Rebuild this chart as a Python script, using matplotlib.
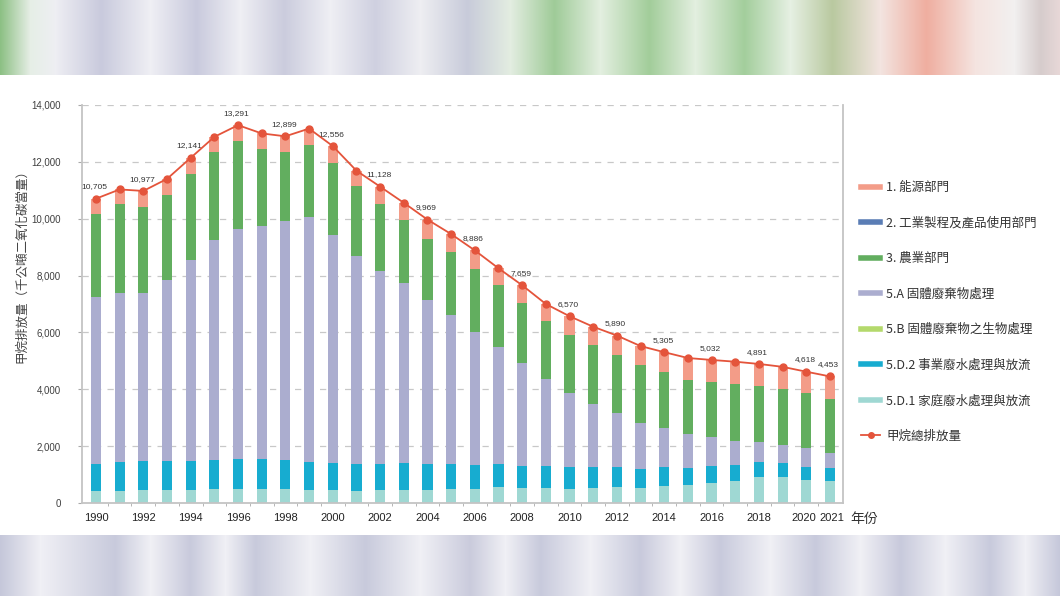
import numpy as np
import matplotlib.pyplot as plt
import matplotlib.transforms as mtransforms
from matplotlib.lines import Line2D
from matplotlib.colors import to_rgb
from matplotlib.ticker import FuncFormatter

plt.rcParams['font.family'] = ['Noto Sans CJK TC', 'DejaVu Sans']

years = list(range(1990, 2022))

# 甲烷排放量（千公噸二氧化碳當量）
energy = [536, 520, 551, 563, 565, 541, 554, 533, 549, 584, 604, 536, 607, 602, 691, 617,
          662, 585, 632, 584, 658, 640, 682, 675, 703, 771, 773, 793, 773, 789, 758, 804]
industry = [2, 2, 2, 2, 2, 2, 2, 2, 2, 2, 2, 2, 2, 2, 2, 2,
            2, 2, 2, 2, 2, 2, 2, 2, 2, 2, 2, 2, 2, 2, 2, 2]
agriculture = [2931, 3110, 3048, 2990, 3025, 3085, 3096, 2709, 2427, 2511, 2511, 2462, 2347, 2227, 2134, 2241,
               2217, 2169, 2089, 2052, 2029, 2075, 2051, 2040, 1973, 1911, 1946, 1982, 1958, 1959, 1935, 1877]
solid_waste = [5864, 5945, 5888, 6357, 7059, 7742, 8091, 8196, 8411, 8620, 8044, 7318, 6800, 6334, 5770, 5228,
               4656, 4128, 3634, 3048, 2626, 2228, 1900, 1607, 1377, 1173, 997, 856, 727, 644, 645, 550]
bio_waste = [0, 0, 0, 0, 0, 0, 0, 0, 0, 0, 0, 0, 1, 1, 1, 1,
             1, 1, 1, 1, 1, 1, 1, 2, 2, 2, 2, 2, 2, 2, 2, 2]
ind_wastewater = [962, 1020, 1031, 1028, 1030, 1030, 1044, 1056, 1030, 1007, 949, 939, 926, 925, 902, 868,
                  845, 809, 762, 774, 751, 715, 680, 656, 645, 610, 599, 551, 528, 493, 469, 446]
dom_wastewater = [410, 433, 457, 460, 460, 480, 504, 504, 480, 446, 446, 433, 446, 470, 470, 504,
                  504, 563, 540, 540, 504, 540, 575, 540, 605, 633, 715, 786, 903, 903, 809, 774]
total = [10705, 11030, 10977, 11400, 12141, 12880, 13291, 13000, 12899, 13170, 12556, 11690, 11128, 10560, 9969, 9460,
         8886, 8256, 7659, 7000, 6570, 6200, 5890, 5520, 5305, 5100, 5032, 4970, 4891, 4790, 4618, 4453]
labelled_years = [1990, 1992, 1994, 1996, 1998, 2000, 2002, 2004, 2006, 2008, 2010, 2012, 2014, 2016, 2018, 2020, 2021]
tick_years = [1990, 1992, 1994, 1996, 1998, 2000, 2002, 2004, 2006, 2008, 2010, 2012, 2014, 2016, 2018, 2020, 2021]

series = [
    ("5.D.1 家庭廢水處理與放流", dom_wastewater, "#9fd8d3"),
    ("5.D.2 事業廢水處理與放流", ind_wastewater, "#17acd0"),
    ("5.B 固體廢棄物之生物處理", bio_waste, "#b4d96c"),
    ("5.A 固體廢棄物處理", solid_waste, "#abadcf"),
    ("3. 農業部門", agriculture, "#62ae5f"),
    ("2. 工業製程及產品使用部門", industry, "#5a7db5"),
    ("1. 能源部門", energy, "#f39c88"),
]

# decorative blurred bands above and below the chart
top_band = [(0, "#8cc084"), (30, "#e6eee6"), (55, "#eeeef3"), (101, "#c9cadd"), (150, "#efeff4"),
            (196, "#c9cadd"), (240, "#efeff4"), (284, "#cbccdd"), (330, "#efeff4"), (375, "#cfd0e0"),
            (420, "#eeeef2"), (467, "#c8cbda"), (510, "#e3ede1"), (554, "#9fcb98"), (600, "#e3efe0"),
            (649, "#a2cd9a"), (695, "#e3efe0"), (744, "#a3ce9c"), (790, "#e6f0e3"), (832, "#b9c9a0"),
            (880, "#f3e4e0"), (926, "#efaea0"), (975, "#f5e4e0"), (1014, "#f2f0f0"), (1040, "#d6cccc"),
            (1060, "#e8d8d8")]
bottom_band = [(0, "#c5c7da"), (40, "#f0f0f5"), (115, "#c8cadc"), (150, "#f0f0f5"), (190, "#c8cadc"),
               (225, "#f0f0f5"), (255, "#c8cadc"), (310, "#f0f0f5"), (365, "#c8cadc"), (420, "#f0f0f5"),
               (470, "#cacbdc"), (505, "#f0f0f5"), (540, "#c8cadc"), (590, "#f0f0f5"), (640, "#c8cadc"),
               (680, "#f0f0f5"), (720, "#c8cadc"), (770, "#f0f0f5"), (815, "#c8cadc"), (860, "#f0f0f5"),
               (900, "#c8cadc"), (945, "#f0f0f5"), (990, "#c8cadc"), (1025, "#f0f0f5"), (1060, "#c5c7da")]


def band_image(stops):
    xs = np.arange(1060)
    px = [p for p, _ in stops]
    cols = np.array([to_rgb(c) for _, c in stops])
    row = np.stack([np.interp(xs, px, cols[:, k]) for k in range(3)], axis=-1)
    return row[np.newaxis, :, :]


fig = plt.figure(figsize=(10.6, 5.96), dpi=100, facecolor="white")

for y0, h, stops in [(1 - 75 / 596, 75 / 596, top_band), (0, 61 / 596, bottom_band)]:
    bax = fig.add_axes([0, y0, 1, h])
    bax.imshow(band_image(stops), aspect="auto", extent=[0, 1, 0, 1])
    bax.axis("off")

ax = fig.add_axes([82 / 1060, 1 - 503 / 596, (843 - 82) / 1060, (503 - 105) / 596])

bottom = np.zeros(len(years))
for name, vals, color in series:
    ax.bar(years, vals, bottom=bottom, width=0.43, color=color, zorder=2)
    bottom += np.array(vals)

ax.plot(years, total, color="#e4543b", linewidth=1.3, marker="o", markersize=5,
        markerfacecolor="#e4543b", markeredgecolor="#e4543b", zorder=4)
for yr, val in zip(years, total):
    if yr in labelled_years:
        ax.annotate(f"{val:,}", (yr, val), xytext=(-1, 6), textcoords="offset points",
                    ha="center", va="bottom", fontsize=6, color="#333333", family="Liberation Sans")

ax.set_xlim(1989.41, 2021.55)
ax.set_ylim(0, 14000)
ax.set_yticks(range(0, 14001, 2000))
ax.yaxis.set_major_formatter(FuncFormatter(lambda v, p: f"{int(v):,}"))
ax.set_xticks(tick_years)
ax.set_xticks([y + 0.5 for y in years[:-1]], minor=True)
ax.tick_params(axis="x", which="major", length=0, pad=7, labelsize=8, labelcolor="#222222")
ax.tick_params(axis="x", which="minor", length=2.5, color="#aaaaaa")
ax.tick_params(axis="y", length=3, color="#aaaaaa", pad=12, labelsize=7, labelcolor="#404040")
for lbl in ax.get_xticklabels():
    lbl.set_family("Liberation Sans")
for lbl in ax.get_yticklabels():
    lbl.set_family("Liberation Sans")
# nudge the last two year labels apart, as in the original
xlabels = ax.get_xticklabels()
xlabels[-2].set_transform(xlabels[-2].get_transform() +
                          mtransforms.ScaledTranslation(-1.5 / 72, 0, fig.dpi_scale_trans))
xlabels[-1].set_transform(xlabels[-1].get_transform() +
                          mtransforms.ScaledTranslation(1.5 / 72, 0, fig.dpi_scale_trans))

ax.grid(axis="y", linestyle=(0, (5, 5)), color="#c8c8c8", linewidth=0.9, zorder=0)
ax.set_axisbelow(True)
ax.spines["top"].set_visible(False)
for side in ["left", "right", "bottom"]:
    ax.spines[side].set_color("#c4c4c4")
    ax.spines[side].set_linewidth(1.3)

fig.text(22 / 1060, 1 - 263 / 596, "甲烷排放量（千公噸二氧化碳當量）", rotation=90,
         ha="center", va="center", fontsize=9, color="#444444")
fig.text(850 / 1060, 1 - 519 / 596, "年份", ha="left", va="center", fontsize=10, color="#333333")

handles = [Line2D([], [], color=c, linewidth=4) for _, _, c in reversed(series)]
labels = [n for n, _, _ in reversed(series)]
handles.append(Line2D([], [], color="#e4543b", linewidth=1.3, marker="o", markersize=4))
labels.append("甲烷總排放量")
fig.legend(handles, labels, loc="upper left", bbox_to_anchor=(850 / 1060, 1 - 170 / 596),
           frameon=False, fontsize=9, labelspacing=1.8, handlelength=1.5, handletextpad=0.5,
           labelcolor="#333333")

fig.savefig("out.png", dpi=100, facecolor="white")
